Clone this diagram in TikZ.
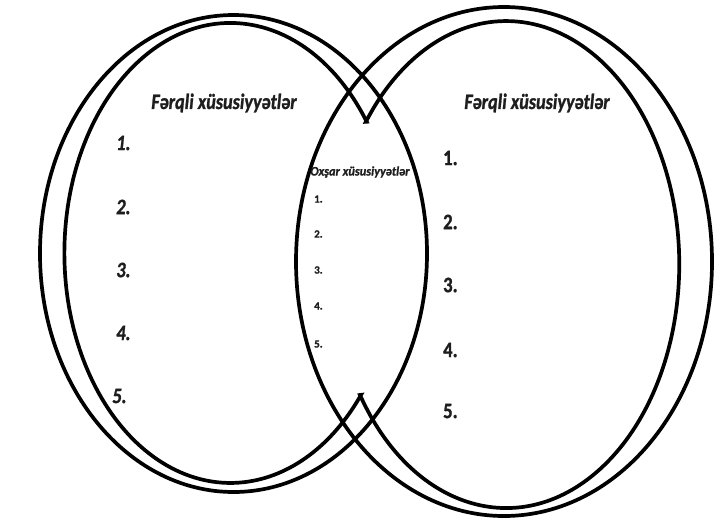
\documentclass[tikz,border=0pt]{standalone}
\usepackage{fontspec}
\setmainfont{Carlito}[BoldFont={Carlito Bold}, ItalicFont={Carlito Italic}, BoldItalicFont={Carlito Bold Italic}, BoldFeatures={FakeBold=1.2}, BoldItalicFeatures={FakeBold=1.2}]
\definecolor{txt}{HTML}{1E1E1E}
\begin{document}
\begin{tikzpicture}[x=1pt,y=-1pt,
  ring/.style={line width=3.7pt, draw=black, line join=miter},
  ttl/.style={font=\fontsize{22}{24}\selectfont\bfseries\itshape, xscale=0.83, text=txt, inner sep=0pt},
  numl/.style={font=\fontsize{22}{24}\selectfont\bfseries\itshape, xscale=0.85, text=txt, inner sep=0pt, anchor=west},
  numr/.style={font=\fontsize{22}{24}\selectfont\bfseries, xscale=0.85, text=txt, inner sep=0pt, anchor=west},
  mttl/.style={font=\fontsize{13}{14}\selectfont\bfseries\itshape, xscale=0.95, text=txt, inner sep=0pt},
  mnum/.style={font=\fontsize{11}{12}\selectfont\bfseries, text=txt, inner sep=0pt, anchor=west}]
\useasboundingbox (0,0) rectangle (714,520);
% outer full ellipses
\draw[ring] (233.5,253.5) ellipse [x radius=193.5pt, y radius=238.5pt];
\draw[ring] (504,261.5) ellipse [x radius=208pt, y radius=254.5pt];
% inner crescents meeting at the tips
\coordinate (tipT) at (366.7,121.7);
\coordinate (tipB) at (360,395);
\draw[ring] (tipT) arc[start angle=34.8, end angle=321.9, x radius=166pt, y radius=230pt] -- (tipB)
  arc[start angle=212.4, end angle=504.1, x radius=173.1pt, y radius=243.5pt] -- cycle;
% titles
\node[ttl] (tl) at (224,103) {Fərqli xüsusiyyətlər};
\node[ttl] (tr) at (537,103) {Fərqli xüsusiyyətlər};
\node[mttl] (tm) at (360,172) {Oxşar xüsusiyyətlər};
% left numbers
\node[numl] (l1) at (116,143) {1.};
\node[numl] (l2) at (116,207) {2.};
\node[numl] (l3) at (116,270) {3.};
\node[numl] (l4) at (116,333) {4.};
\node[numl] (l5) at (112,396) {5.};
% right numbers
\node[numr] (r1) at (443,158) {1.};
\node[numr] (r2) at (443,222) {2.};
\node[numr] (r3) at (443,285) {3.};
\node[numr] (r4) at (443,350) {4.};
\node[numr] (r5) at (443,411) {5.};
% middle numbers
\node[mnum] (m1) at (314,199) {1.};
\node[mnum] (m2) at (314,234) {2.};
\node[mnum] (m3) at (314,270) {3.};
\node[mnum] (m4) at (314,306) {4.};
\node[mnum] (m5) at (314,344) {5.};
\end{tikzpicture}
\end{document}
